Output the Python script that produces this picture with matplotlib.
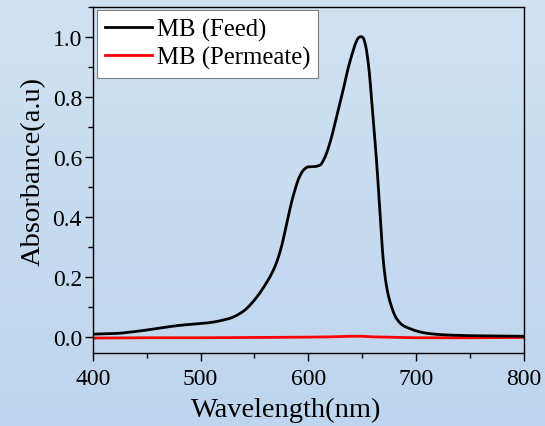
import numpy as np
import matplotlib
matplotlib.use("Agg")
import matplotlib.pyplot as plt
from matplotlib.ticker import MultipleLocator

# Data
feed_nm = [400, 420, 440, 460, 480, 500, 510, 520, 529, 540, 549, 560, 569, 575, 580,
           586, 592, 596, 600, 606, 611, 615, 620, 626, 631, 637, 641, 644, 647, 649,
           651, 653, 656, 660, 664, 667, 670, 673, 676, 682, 688, 694, 700, 710, 725,
           750, 800]
feed_abs = [0.011, 0.013, 0.020, 0.030, 0.040, 0.046, 0.050, 0.057, 0.066, 0.088, 0.120,
            0.175, 0.235, 0.300, 0.380, 0.470, 0.535, 0.558, 0.567, 0.568, 0.573, 0.595,
            0.645, 0.728, 0.800, 0.894, 0.945, 0.978, 0.997, 1.000, 0.996, 0.975, 0.905,
            0.740, 0.560, 0.390, 0.245, 0.165, 0.118, 0.063, 0.040, 0.030, 0.022, 0.014,
            0.009, 0.006, 0.004]

perm_nm = [400, 450, 500, 550, 600, 620, 640, 650, 660, 700, 750, 800]
perm_abs = [-0.002, -0.001, -0.001, 0.000, 0.001, 0.002, 0.004, 0.004, 0.002, -0.001, -0.001, 0.000]

x_ticks = [400, 500, 600, 700, 800]
y_ticks = [0.0, 0.2, 0.4, 0.6, 0.8, 1.0]

plt.rcParams['font.family'] = ['Liberation Serif', 'DejaVu Serif']

fig = plt.figure(figsize=(5.45, 4.27), dpi=100)

# gradient background
bg = fig.add_axes([0, 0, 1, 1], zorder=-10)
top = np.array([209, 226, 242]) / 255.0
bot = np.array([189, 213, 238]) / 255.0
t = np.linspace(0, 1, 256)[:, None]
grad = top[None, :] * (1 - t) + bot[None, :] * t
bg.imshow(grad[:, None, :], aspect='auto', extent=[0, 1, 0, 1])
bg.set_axis_off()

ax = fig.add_axes([93/545, 1 - 353.5/427, (523.5-93)/545, (353.5-7.5)/427])
ax.set_facecolor('none')

xs = np.array(feed_nm, dtype=float)
ys = np.array(feed_abs, dtype=float)
xf = np.linspace(400, 800, 1601)

def pchip(x, y, xn):
    h = np.diff(x)
    d = np.diff(y) / h
    m = np.zeros_like(y)
    for i in range(1, len(y) - 1):
        if d[i-1] * d[i] <= 0:
            m[i] = 0
        else:
            w1 = 2*h[i] + h[i-1]
            w2 = h[i] + 2*h[i-1]
            m[i] = (w1 + w2) / (w1/d[i-1] + w2/d[i])
    m[0] = d[0]
    m[-1] = d[-1]
    idx = np.clip(np.searchsorted(x, xn) - 1, 0, len(x) - 2)
    hh = h[idx]
    s = (xn - x[idx]) / hh
    h00 = 2*s**3 - 3*s**2 + 1
    h10 = s**3 - 2*s**2 + s
    h01 = -2*s**3 + 3*s**2
    h11 = s**3 - s**2
    return h00*y[idx] + h10*hh*m[idx] + h01*y[idx+1] + h11*hh*m[idx+1]

ax.plot(xf, pchip(xs, ys, xf), color='black', lw=2.0, label='MB (Feed)', zorder=3)
ax.plot(perm_nm, perm_abs, color='#ff0000', lw=2.0, label='MB (Permeate)', zorder=2)

ax.set_xlim(400, 800)
ax.set_ylim(-0.05, 1.1)
ax.set_xticks(x_ticks)
ax.set_yticks(y_ticks)
ax.set_yticklabels([f"{v:.1f}" for v in y_ticks])
ax.xaxis.set_minor_locator(MultipleLocator(50))
ax.yaxis.set_minor_locator(MultipleLocator(0.1))
ax.tick_params(which='major', direction='out', length=6, width=1, labelsize=17,
               colors='black')
ax.tick_params(axis='x', which='major', pad=5)
ax.tick_params(axis='y', which='major', pad=2)
ax.tick_params(which='minor', direction='out', length=3.5, width=1)
for s in ax.spines.values():
    s.set_linewidth(1.0)

ax.set_xlabel('Wavelength(nm)', fontsize=20.5, labelpad=5.5)
ax.set_ylabel('Absorbance(a.u)', fontsize=20.5, labelpad=5)
ax.xaxis.label.set_x(0.448)
ax.yaxis.label.set_y(0.526)

leg = ax.legend(loc='upper left', fontsize=17.8, frameon=True, fancybox=False,
                edgecolor='#808080', facecolor='white', framealpha=1,
                borderaxespad=0.15, handlelength=1.9, handletextpad=0.2,
                borderpad=0.33, labelspacing=0.2)
leg.get_frame().set_linewidth(0.8)

fig.savefig('out.png', dpi=100)
